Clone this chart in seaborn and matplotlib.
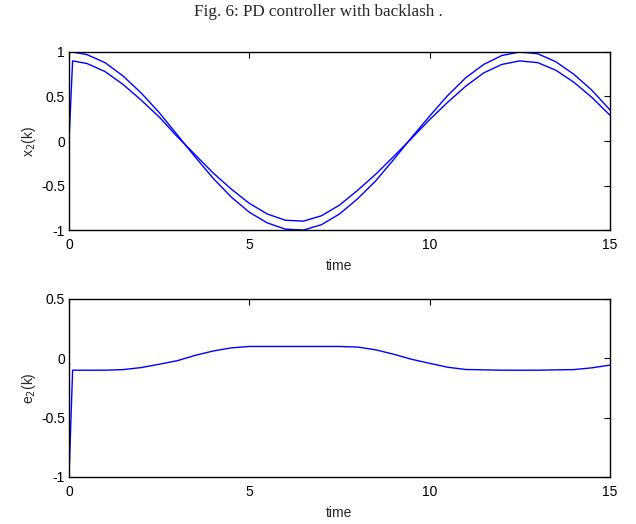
import matplotlib
matplotlib.use("Agg")
import matplotlib.pyplot as plt
import seaborn as sns
import pandas as pd

# time samples
time = [0.0, 0.1, 0.5, 1.0, 1.5, 2.0, 2.5, 3.0, 3.5, 4.0, 4.5, 5.0, 5.5, 6.0, 6.5,
        7.0, 7.5, 8.0, 8.5, 9.0, 9.5, 10.0, 10.5, 11.0, 11.5, 12.0, 12.5, 13.0,
        13.5, 14.0, 14.5, 15.0]
# desired trajectory (upper curve)
x_desired = [1.00, 1.00, 0.97, 0.88, 0.73, 0.54, 0.32, 0.07, -0.18, -0.42, -0.63,
             -0.80, -0.92, -0.99, -1.00, -0.94, -0.82, -0.65, -0.45, -0.21, 0.04,
             0.28, 0.51, 0.71, 0.86, 0.96, 1.00, 0.98, 0.89, 0.75, 0.57, 0.35]
# actual output x2(k) (lower curve)
x2 = [0.00, 0.90, 0.87, 0.78, 0.635, 0.46, 0.27, 0.05, -0.155, -0.36, -0.54,
      -0.70, -0.82, -0.89, -0.90, -0.84, -0.72, -0.555, -0.375, -0.175, 0.03,
      0.24, 0.435, 0.615, 0.765, 0.86, 0.90, 0.88, 0.795, 0.66, 0.49, 0.29]
# error e2(k)
e2 = [-1.00, -0.10, -0.10, -0.10, -0.095, -0.078, -0.05, -0.02, 0.025, 0.062,
      0.088, 0.10, 0.10, 0.10, 0.10, 0.10, 0.10, 0.095, 0.072, 0.035, -0.008,
      -0.042, -0.075, -0.094, -0.097, -0.10, -0.10, -0.10, -0.097, -0.095,
      -0.08, -0.057]

x_ticks = [0, 5, 10, 15]
top_yticks = [-1, -0.5, 0, 0.5, 1]
top_ylabels = ["-1", "-0.5", "0", "0.5", "1"]
bot_yticks = [-1, -0.5, 0, 0.5]
bot_ylabels = ["-1", "-0.5", "0", "0.5"]

sns.set_style("white")
plt.rcParams['font.family'] = ['Liberation Sans', 'DejaVu Sans']

df = pd.DataFrame({"time": time, "xd": x_desired, "x2": x2, "e2": e2})

fig = plt.figure(figsize=(6.36, 5.24), dpi=100)
ax1 = fig.add_axes([0.1085, 0.561, 0.8505, 0.3398])
ax2 = fig.add_axes([0.1085, 0.0897, 0.8505, 0.3397])

blue = "#0000ff"
sns.lineplot(data=df, x="time", y="xd", ax=ax1, color=blue, lw=1.0,
             sort=False, estimator=None)
sns.lineplot(data=df, x="time", y="x2", ax=ax1, color=blue, lw=1.0,
             sort=False, estimator=None)
sns.lineplot(data=df, x="time", y="e2", ax=ax2, color=blue, lw=1.0,
             sort=False, estimator=None)

for ax, yt, yl, ylim, lab in [(ax1, top_yticks, top_ylabels, (-1, 1), "x$_2$(k)"),
                              (ax2, bot_yticks, bot_ylabels, (-1, 0.5), "e$_2$(k)")]:
    ax.set_xlim(0, 15)
    ax.set_ylim(*ylim)
    ax.set_xticks(x_ticks)
    ax.set_xticklabels([str(v) for v in x_ticks])
    ax.set_yticks(yt)
    ax.set_yticklabels(yl)
    ax.tick_params(direction="in", length=4, width=0.8, top=True, right=True,
                   labelsize=10, colors="black")
    ax.tick_params(axis="x", pad=6)
    ax.tick_params(axis="y", pad=3)
    for s in ax.spines.values():
        s.set_color("black")
        s.set_linewidth(1.0)
        s.set_visible(True)
    ax.set_xlabel("time", fontsize=10, labelpad=5)
    ax.set_ylabel(lab, fontsize=10, labelpad=2)

fig.text(0.5, 0.977, "Fig. 6: PD controller with backlash .", ha="center", va="center",
         fontsize=12.3, family=["Liberation Serif", "DejaVu Serif"])

fig.savefig("out.png", dpi=100, facecolor="white")
